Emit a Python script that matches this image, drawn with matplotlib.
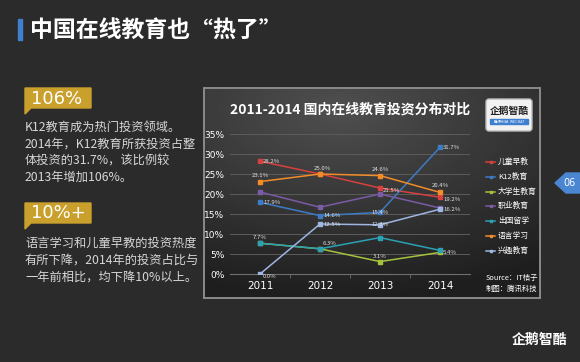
"""中国在线教育投资分布 — 2011-2014 slide recreation."""
import numpy as np
import matplotlib
matplotlib.use("Agg")
import matplotlib.pyplot as plt
from matplotlib.transforms import Affine2D
from matplotlib.patches import Polygon, Rectangle, FancyBboxPatch
from matplotlib.lines import Line2D

plt.rcParams["font.family"] = ["Noto Sans CJK SC", "DejaVu Sans"]

# ---- data ----
YEARS = ["2011", "2012", "2013", "2014"]
SERIES = ["儿童早教", "K12教育", "大学生教育", "职业教育", "出国留学", "语言学习", "兴趣教育"]
early_edu   = [28.2, 25.0, 21.5, 19.2]
k12_edu     = [17.9, 14.6, 15.4, 31.7]
college_edu = [7.7, 6.3, 3.1, 5.4]
vocational  = [20.5, 16.7, 20.0, 16.5]
study_abroad = [7.7, 6.3, 9.1, 5.9]
language    = [23.1, 25.0, 24.6, 20.4]
interest    = [0.0, 12.5, 12.3, 16.2]
VALUES = [early_edu, k12_edu, college_edu, vocational, study_abroad, language, interest]

COLORS = ["#d8413d", "#3d7cc4", "#a5c23c", "#7b5ba6", "#2aa2b4", "#f28c28", "#9fb5e2"]

# which points carry a value label: (series idx, year idx, dx px, dy px, ha)
LABELS = [
    (0, 0, 3, 0, "left"), (0, 2, 3, -3, "left"), (0, 3, 3, -2, "left"),
    (5, 0, 0, 6, "center"), (5, 1, 2, 6, "center"), (5, 2, 0, 6, "center"),
    (5, 3, 0, 7, "center"),
    (1, 0, 3, 0, "left"), (1, 1, 3, 0, "left"), (1, 2, 0, 0, "center"),
    (1, 3, 3, 0, "left"),
    (6, 0, 3, -3, "left"), (6, 1, 3, 0, "left"), (6, 2, 0, 0, "center"),
    (6, 3, 3, 0, "left"),
    (2, 0, 0, 6, "center"), (2, 1, 3, 5, "left"), (2, 2, 0, 5, "center"),
    (2, 3, 3, 0, "left"),
]

W, H = 580, 362
BG = "#2b2b2b"

fig = plt.figure(figsize=(W / 100, H / 100), dpi=100, facecolor=BG)
pix = Affine2D().scale(1 / W, -1 / H).translate(0, 1) + fig.transFigure


def fbox(x0, y0, x1, y1):
    return [x0 / W, 1 - y1 / H, (x1 - x0) / W, (y1 - y0) / H]


# ---- page title ----
fig.patches.append(Rectangle((18, 19), 3.5, 21, transform=pix, color="#3f7fd0"))
fig.text(30, 30, "中国在线教育也“热了”", transform=pix, color="white",
         fontsize=16.5, fontweight="bold", va="center", ha="left")

# ---- left panel ----
GOLD = "#c9a02c"
TXT = "#d6d6d6"
for y0, y1, head in [(88, 108, "106%"), (203, 223, "10%+")]:
    fig.patches.append(Polygon([(25, y0), (91, y0), (91, y1), (31, y1), (25, y1 + 6)],
                               closed=True, transform=pix, color=GOLD))
    fig.text(31, (y0 + y1) / 2 + 0.5, head, transform=pix, color="white",
             fontsize=13, va="center", ha="left", family=["DejaVu Sans"])

para1 = ["K12教育成为热门投资领域。", "2014年，K12教育所获投资占整",
         "体投资的31.7%，该比例较", "2013年增加106%。"]
para2 = ["语言学习和儿童早教的投资热度", "有所下降，2014年的投资占比与",
         "一年前相比，均下降10%以上。"]
for i, line in enumerate(para1):
    fig.text(25, 127 + i * 16.8, line, transform=pix, color=TXT, fontsize=8.8, va="center")
for i, line in enumerate(para2):
    fig.text(25, 243 + i * 16.8, line, transform=pix, color=TXT, fontsize=8.8, va="center")

# ---- chart frame with gradient ----
bg_ax = fig.add_axes(fbox(204, 88, 540, 298))
gy, gx = np.mgrid[0:1:200j, 0:1:300j]
r = np.sqrt(((gx - 0.4) / 1.0) ** 2 + ((gy - 0.1) / 0.9) ** 2)
shade = np.clip(0.31 - 0.19 * r, 0.12, 0.31)
bg_ax.imshow(shade, cmap="gray", vmin=0, vmax=1, aspect="auto", extent=[0, 1, 1, 0])
bg_ax.set_xticks([])
bg_ax.set_yticks([])
for s in bg_ax.spines.values():
    s.set_color("#8a8a8a")
    s.set_linewidth(1.4)

fig.text(350, 110, "2011-2014 国内在线教育投资分布对比", transform=pix, color="white",
         fontsize=10, fontweight="bold", ha="center", va="center")

# logo box
fig.patches.append(FancyBboxPatch((486, 99), 46, 32, boxstyle="round,pad=0,rounding_size=3",
                                  transform=pix, facecolor="#f2f2f2", edgecolor="#bbbbbb"))
fig.text(509, 111, "企鹅智酷", transform=pix, color="#222222", fontsize=7,
         fontweight="bold", ha="center", va="center")
fig.patches.append(Rectangle((490, 119), 38, 5, transform=pix, color="#3f7fd0"))
fig.text(509, 121.5, "腾讯科技  WECHAT", transform=pix, color="white", fontsize=2.6,
         ha="center", va="center")

# ---- main plot ----
ax = fig.add_axes(fbox(230, 134, 470, 274))
ax.set_facecolor("none")
x = np.arange(len(YEARS))
for name, vals, c in zip(SERIES, VALUES, COLORS):
    ax.plot(x, vals, color=c, lw=1.1, marker="s", ms=2.2, label=name, zorder=3)

for si, yi, dx, dy, ha in LABELS:
    v = VALUES[si][yi]
    ax.annotate(f"{v:.1f}%", (x[yi], v), xytext=(dx * 0.72, dy * 0.72),
                textcoords="offset points", fontsize=4.3, color="#e2e2e2",
                ha=ha, va="center", zorder=4)

ax.set_xlim(-0.5, 3.5)
ax.set_ylim(0, 35)
ax.set_yticks(np.arange(0, 36, 5))
ax.set_yticklabels([f"{v}%" for v in range(0, 36, 5)])
ax.set_xticks(x)
ax.set_xticklabels(YEARS)
ax.set_xticks([0.5, 1.5, 2.5], minor=True)
ax.grid(axis="y", color="#5c5c5c", lw=0.7)
ax.set_axisbelow(True)
for side in ["top", "right", "left"]:
    ax.spines[side].set_visible(False)
ax.spines["bottom"].set_color("#6e6e6e")
ax.tick_params(axis="y", length=0, colors="white", labelsize=6.5, pad=4)
ax.tick_params(axis="x", which="major", length=0, colors="white", labelsize=7.5, pad=5)
ax.tick_params(axis="x", which="minor", length=3, color="#6e6e6e")
for lab in ax.get_xticklabels() + ax.get_yticklabels():
    lab.set_family(["DejaVu Sans"])

# legend, drawn entry by entry
for i, (name, c) in enumerate(zip(SERIES, COLORS)):
    yy = 162 + i * 14.8
    fig.lines.append(Line2D([486, 495], [yy, yy], transform=pix, color=c, lw=1.1))
    fig.lines.append(Line2D([490.5], [yy], transform=pix, color=c, marker="s", ms=1.8))
    fig.text(498, yy, name, transform=pix, color="white", fontsize=5.6, va="center")

fig.text(486, 278, "Source：IT桔子", transform=pix, color="white", fontsize=5.3,
         style="italic", va="center")
fig.text(486, 289, "制图：腾讯科技", transform=pix, color="white", fontsize=5.3,
         style="italic", va="center")

# ---- page tab and footer ----
fig.patches.append(Polygon([(555, 183), (566, 173), (580, 173), (580, 193), (566, 193)],
                           closed=True, transform=pix, color="#4a86d2"))
fig.text(570, 183, "06", transform=pix, color="white", fontsize=7, ha="center", va="center",
         family=["DejaVu Sans"])
fig.text(540, 340, "企鹅智酷", transform=pix, color="white", fontsize=10,
         fontweight="bold", ha="center", va="center")

fig.savefig("out.png", dpi=100, facecolor=BG)
